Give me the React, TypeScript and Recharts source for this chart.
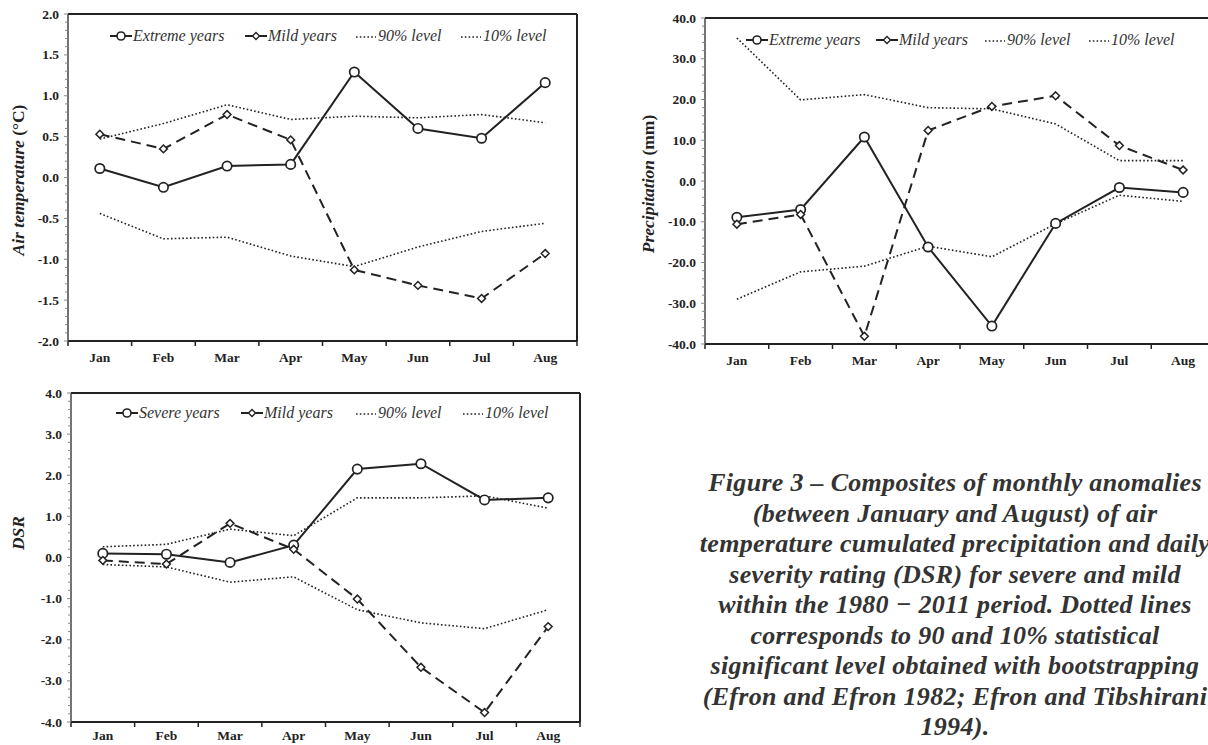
import React from 'react';
import { LineChart, Line, XAxis, YAxis } from 'recharts';

const FONT = '"Liberation Serif", "Times New Roman", serif';
const INK = '#222';

const months = ['Jan', 'Feb', 'Mar', 'Apr', 'May', 'Jun', 'Jul', 'Aug'];

// Air temperature anomalies (°C)
const tempExtreme = [0.11, -0.12, 0.14, 0.16, 1.29, 0.6, 0.48, 1.16];
const tempMild = [0.53, 0.35, 0.77, 0.46, -1.13, -1.32, -1.48, -0.93];
const temp90 = [0.47, 0.66, 0.89, 0.71, 0.75, 0.73, 0.77, 0.67];
const temp10 = [-0.44, -0.75, -0.73, -0.96, -1.09, -0.85, -0.66, -0.56];
const tempTicks = [-2, -1.5, -1, -0.5, 0, 0.5, 1, 1.5, 2];

// Precipitation anomalies (mm)
const precExtreme = [-8.9, -7.0, 10.8, -16.2, -35.6, -10.4, -1.6, -2.8];
const precMild = [-10.6, -8.2, -38.1, 12.4, 18.3, 20.9, 8.7, 2.7];
const prec90 = [35.1, 19.9, 21.2, 18.0, 17.7, 14.0, 5.0, 5.0];
const prec10 = [-29.0, -22.3, -20.9, -16.0, -18.6, -10.5, -3.5, -5.0];
const precTicks = [-40, -30, -20, -10, 0, 10, 20, 30, 40];

// DSR anomalies
const dsrSevere = [0.1, 0.08, -0.12, 0.3, 2.15, 2.28, 1.4, 1.45];
const dsrMild = [-0.07, -0.16, 0.83, 0.2, -1.01, -2.67, -3.77, -1.68];
const dsr90 = [0.26, 0.32, 0.69, 0.53, 1.45, 1.45, 1.5, 1.2];
const dsr10 = [-0.17, -0.23, -0.6, -0.47, -1.27, -1.59, -1.73, -1.27];
const dsrTicks = [-4, -3, -2, -1, 0, 1, 2, 3, 4];

const captionLines = [
  'Figure 3 \u2013 Composites of monthly anomalies',
  '(between January and August) of air',
  'temperature cumulated precipitation and daily',
  'severity rating (DSR) for severe and mild',
  'within the 1980 \u2212 2011 period. Dotted lines',
  'corresponds to 90 and 10% statistical',
  'significant level obtained with bootstrapping',
  '(Efron and Efron 1982; Efron and Tibshirani',
  '1994).',
];

type Kind = 'solid' | 'dashed' | 'dot';
type Series = { name: string; values: number[]; kind: Kind };

const CircleDot = (p: any) =>
  p.cx == null ? <g key={p.index} /> : (
    <circle key={p.index} cx={p.cx} cy={p.cy} r={4.7} fill="#fff" stroke={INK} strokeWidth={1.7} />
  );
const DiamondDot = (p: any) => {
  if (p.cx == null) return <g key={p.index} />;
  const s = 3.9;
  return (
    <path
      key={p.index}
      d={`M${p.cx},${p.cy - s}L${p.cx + s},${p.cy}L${p.cx},${p.cy + s}L${p.cx - s},${p.cy}Z`}
      fill="#fff"
      stroke={INK}
      strokeWidth={1.5}
    />
  );
};

const LegendMarker = ({ kind }: { kind: Kind }) => (
  <svg width={22} height={12} style={{ display: 'block' }}>
    {kind === 'dot' ? (
      <line x1={1} x2={21} y1={7} y2={7} stroke={INK} strokeWidth={1.6} strokeDasharray="1.6 2.2" />
    ) : (
      <line x1={0} x2={22} y1={6} y2={6} stroke={INK} strokeWidth={2} />
    )}
    {kind === 'solid' && <circle cx={11} cy={6} r={4} fill="#fff" stroke={INK} strokeWidth={1.6} />}
    {kind === 'dashed' && <path d="M11,2.5L14.5,6L11,9.5L7.5,6Z" fill="#fff" stroke={INK} strokeWidth={1.4} />}
  </svg>
);

type Spec = {
  left: number;
  top: number;
  width: number;
  height: number;
  margin: { top: number; right: number; bottom: number; left: number };
  yWidth: number;
  xHeight: number;
  labelDy: number;
  majors: number[];
  minorSteps: number;
  series: Series[];
  title: React.ReactNode;
  titleX: number;
  titleY: number;
  legendLeft: number;
  legendTop: number;
  legendOffsets: number[];
};

const Panel = ({ spec }: { spec: Spec }) => {
  const { majors, minorSteps, series } = spec;
  const data = months.map((m, i) => {
    const row: any = { month: m };
    series.forEach((s, k) => (row['s' + k] = s.values[i]));
    return row;
  });
  const step = (majors[1] - majors[0]) / minorSteps;
  const allTicks: number[] = [];
  for (let i = 0; i < majors.length - 1; i++) {
    for (let j = 0; j < minorSteps; j++) allTicks.push(+(majors[i] + j * step).toFixed(4));
  }
  allTicks.push(majors[majors.length - 1]);
  // 1px top axis and 1px right axis are included in the chart offsets
  const plotW = spec.width - spec.margin.left - spec.margin.right - spec.yWidth - 1;
  const band = plotW / months.length;
  const domain: [number, number] = [majors[0], majors[majors.length - 1]];

  const YTick = (p: any) => {
    const v = p.payload.value;
    const isMajor = majors.some((m) => Math.abs(m - v) < 1e-6);
    return (
      <g>
        <line x1={p.x - (isMajor ? 4 : 3)} x2={p.x} y1={p.y} y2={p.y} stroke="#888" strokeWidth={1} />
        {isMajor && (
          <text
            x={p.x - 9}
            y={p.y}
            textAnchor="end"
            dominantBaseline="central"
            fontFamily={FONT}
            fontWeight="bold"
            fontSize={13.5}
            fill={INK}
          >
            {v.toFixed(1)}
          </text>
        )}
      </g>
    );
  };

  const XTick = (p: any) => (
    <g>
      <line x1={p.x - band / 2} x2={p.x - band / 2} y1={p.y} y2={p.y + 5} stroke={INK} strokeWidth={1.5} />
      {p.index === months.length - 1 && (
        <line x1={p.x + band / 2} x2={p.x + band / 2} y1={p.y} y2={p.y + 5} stroke={INK} strokeWidth={1.5} />
      )}
      <text
        x={p.x}
        y={p.y + spec.labelDy}
        textAnchor="middle"
        dominantBaseline="central"
        fontFamily={FONT}
        fontWeight="bold"
        fontSize={13.5}
        fill={INK}
      >
        {p.payload.value}
      </text>
    </g>
  );

  const TitleLabel = () => (
    <text
      x={spec.titleX}
      y={spec.titleY}
      transform={`rotate(-90 ${spec.titleX} ${spec.titleY})`}
      textAnchor="middle"
      dominantBaseline="central"
      fontFamily={FONT}
      fontWeight="bold"
      fontSize={17.5}
      fill={INK}
    >
      {spec.title}
    </text>
  );

  return (
    <div style={{ position: 'absolute', left: spec.left, top: spec.top, width: spec.width, height: spec.height }}>
      <LineChart width={spec.width} height={spec.height} data={data} margin={spec.margin}>
        <XAxis
          dataKey="month"
          type="category"
          height={spec.xHeight}
          padding={{ left: band / 2, right: band / 2 }}
          tickSize={0}
          tickMargin={0}
          tickLine={false}
          axisLine={{ stroke: INK, strokeWidth: 2 }}
          tick={XTick}
          interval={0}
        />
        <XAxis
          xAxisId="top"
          orientation="top"
          dataKey="month"
          type="category"
          height={1}
          tick={false}
          tickLine={false}
          axisLine={{ stroke: INK, strokeWidth: 2 }}
        />
        <YAxis
          type="number"
          width={spec.yWidth}
          domain={domain}
          ticks={allTicks}
          interval={0}
          tickSize={0}
          tickMargin={0}
          tickLine={false}
          axisLine={{ stroke: '#444', strokeWidth: 1.5 }}
          tick={YTick}
          label={{ content: TitleLabel }}
        />
        <YAxis
          yAxisId="right"
          orientation="right"
          type="number"
          width={1}
          domain={domain}
          tick={false}
          tickLine={false}
          axisLine={{ stroke: INK, strokeWidth: 2 }}
        />
        {series.map((s, k) => (
          <Line
            key={s.name + k}
            dataKey={'s' + k}
            name={s.name}
            type="linear"
            stroke={INK}
            strokeWidth={s.kind === 'dot' ? 1.6 : 2}
            strokeDasharray={s.kind === 'dashed' ? '10 6' : s.kind === 'dot' ? '1.6 2.2' : undefined}
            dot={s.kind === 'solid' ? CircleDot : s.kind === 'dashed' ? DiamondDot : false}
            activeDot={false}
            isAnimationActive={false}
          />
        ))}
      </LineChart>
      <div style={{ position: 'absolute', left: spec.legendLeft, top: spec.legendTop }}>
        {series.map((s, k) => (
          <div
            key={s.name + k}
            style={{
              position: 'absolute',
              left: spec.legendOffsets[k],
              top: 0,
              display: 'flex',
              alignItems: 'center',
              whiteSpace: 'nowrap',
              fontFamily: FONT,
              fontStyle: 'italic',
              fontSize: 16,
              color: '#333',
              lineHeight: '16px',
            }}
          >
            <LegendMarker kind={s.kind} />
            <span style={{ marginLeft: 1 }}>{s.name}</span>
          </div>
        ))}
      </div>
    </div>
  );
};

const tempSpec: Spec = {
  left: 0,
  top: 0,
  width: 600,
  height: 370,
  margin: { top: 13, right: 22, bottom: 0, left: 18 },
  yWidth: 50,
  xHeight: 29,
  labelDy: 16,
  majors: tempTicks,
  minorSteps: 5,
  series: [
    { name: 'Extreme years', values: tempExtreme, kind: 'solid' },
    { name: 'Mild years', values: tempMild, kind: 'dashed' },
    { name: '90% level', values: temp90, kind: 'dot' },
    { name: '10% level', values: temp10, kind: 'dot' },
  ],
  title: (
    <>
      <tspan fontStyle="italic">Air temperature</tspan>
      <tspan> (°C)</tspan>
    </>
  ),
  titleX: 18,
  titleY: 180,
  legendLeft: 110,
  legendTop: 28,
  legendOffsets: [0, 135, 245, 350],
};

const precSpec: Spec = {
  left: 600,
  top: 0,
  width: 620,
  height: 370,
  margin: { top: 17, right: 4, bottom: 0, left: 55 },
  yWidth: 50,
  xHeight: 26,
  labelDy: 16,
  majors: precTicks,
  minorSteps: 5,
  series: [
    { name: 'Extreme years', values: precExtreme, kind: 'solid' },
    { name: 'Mild years', values: precMild, kind: 'dashed' },
    { name: '90% level', values: prec90, kind: 'dot' },
    { name: '10% level', values: prec10, kind: 'dot' },
  ],
  title: (
    <>
      <tspan fontStyle="italic">Precipitation</tspan>
      <tspan> (mm)</tspan>
    </>
  ),
  titleX: 48,
  titleY: 184,
  legendLeft: 146,
  legendTop: 32,
  legendOffsets: [0, 130, 238, 342],
};

const dsrSpec: Spec = {
  left: 0,
  top: 370,
  width: 600,
  height: 375,
  margin: { top: 22, right: 19, bottom: 0, left: 21 },
  yWidth: 50,
  xHeight: 23,
  labelDy: 13,
  majors: dsrTicks,
  minorSteps: 5,
  series: [
    { name: 'Severe years', values: dsrSevere, kind: 'solid' },
    { name: 'Mild years', values: dsrMild, kind: 'dashed' },
    { name: '90% level', values: dsr90, kind: 'dot' },
    { name: '10% level', values: dsr10, kind: 'dot' },
  ],
  title: <tspan fontStyle="italic">DSR</tspan>,
  titleX: 18,
  titleY: 163,
  legendLeft: 116,
  legendTop: 35,
  legendOffsets: [0, 125, 239, 346],
};

export default function App() {
  return (
    <div
      style={{
        position: 'fixed',
        left: 0,
        top: 0,
        width: 1208,
        height: 745,
        overflow: 'hidden',
        background: '#fff',
      }}
    >
      <Panel spec={tempSpec} />
      <Panel spec={precSpec} />
      <Panel spec={dsrSpec} />
      <div
        style={{
          position: 'absolute',
          left: 555,
          top: 468,
          width: 800,
          textAlign: 'center',
          fontFamily: FONT,
          fontWeight: 'bold',
          fontStyle: 'italic',
          fontSize: 26,
          letterSpacing: '0.3px',
          lineHeight: '30.5px',
          color: '#333',
          whiteSpace: 'nowrap',
        }}
      >
        {captionLines.map((l, i) => (
          <div key={i}>{l}</div>
        ))}
      </div>
    </div>
  );
}
